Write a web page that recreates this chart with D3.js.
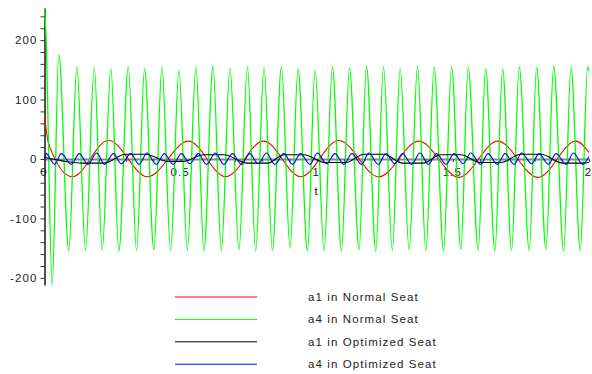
<!DOCTYPE html>
<html>
<head>
<meta charset="utf-8">
<script src="https://cdn.jsdelivr.net/npm/d3@7"></script>
<style>
  body { margin: 0; background: #fff; }
  text { font-family: "Liberation Sans", Arial, sans-serif; font-size: 11.5px; fill: #222; letter-spacing: 1.1px; }
</style>
</head>
<body>
<svg id="chart" width="592" height="374"></svg>
<script>
// [t, value] pairs (extremes of each wave)
const a1Normal = [[0,74],[0.0074,45],[0.018,22],[0.102,-30],[0.235,31],[0.378,-30],[0.529,30],[0.665,-30],
  [0.805,30],[0.941,-30],[1.081,31],[1.228,-30],[1.375,30],[1.522,-31],[1.665,30],[1.813,-31],[1.952,30],[2.0,11]];

const a4Normal = [[0,254],[0.005,214],[0.0283,-212],[0.0526,176],[0.0893,-155],[0.1188,155],[0.1507,-154],
  [0.1827,154],[0.2121,-153],[0.2438,152],[0.2732,-155],[0.3077,155],[0.3382,-154],[0.3676,152],[0.4018,-153],
  [0.4313,155],[0.4632,-155],[0.4938,150],[0.5246,-153],[0.5563,155],[0.5857,-154],[0.6188,156],[0.6496,-155],
  [0.6813,153],[0.7143,-153],[0.7452,155],[0.7757,-155],[0.8063,154],[0.8371,-154],[0.8702,155],[0.9018,-150],
  [0.9313,152],[0.9658,-155],[0.9938,150],[1.0268,-154],[1.0577,155],[1.0908,-155],[1.1202,153],[1.1555,-153],
  [1.1827,156],[1.2169,-155],[1.2452,155],[1.2776,-154],[1.3063,153],[1.3393,-153],[1.3702,156],[1.4007,-154],
  [1.4313,154],[1.4658,-155],[1.4952,155],[1.5294,-152],[1.5563,154],[1.5930,-154],[1.6202,152],[1.6544,-155],
  [1.6827,151],[1.7158,-153],[1.7438,155],[1.7805,-154],[1.8077,154],[1.8419,-152],[1.8702,156],[1.9070,-155],
  [1.9338,155],[1.9680,-154],[1.9952,155],[2.0,148]];

const a1Optimized = [[0,3],[0.143,-7],[0.217,-7],[0.298,8],[0.371,8],[0.452,-4],[0.511,-4],[0.585,7],[0.658,7],
  [0.746,-7],[0.820,-7],[0.879,7],[0.952,7],[1.033,-6],[1.107,-6],[1.173,8],[1.246,8],[1.316,-7],[1.390,-7],
  [1.456,7],[1.529,7],[1.603,-6],[1.676,-6],[1.750,8],[1.824,8],[1.904,-7],[1.978,-7],[2.0,-6]];

const a4Optimized = [[0,4],[0.006,9],[0.037,-9],[0.0616,9],[0.0983,-9],[0.1278,9],[0.1597,-9],[0.1917,10],
  [0.2211,-9],[0.2528,9],[0.2822,-8],[0.3167,9],[0.3472,-9],[0.3766,10],[0.4108,-9],[0.4403,9],[0.4722,-9],
  [0.5028,9],[0.5336,-8],[0.5653,9],[0.5947,-9],[0.6278,10],[0.6586,-9],[0.6903,9],[0.7233,-9],[0.7542,9],
  [0.7847,-8],[0.8153,10],[0.8461,-9],[0.8792,9],[0.9108,-9],[0.9403,9],[0.9748,-9],[1.0028,10],[1.0358,-8],
  [1.0667,9],[1.0998,-9],[1.1292,9],[1.1645,-9],[1.1917,10],[1.2259,-9],[1.2542,9],[1.2866,-8],[1.3153,9],
  [1.3483,-9],[1.3792,10],[1.4097,-9],[1.4403,9],[1.4748,-9],[1.5042,9],[1.5384,-8],[1.5653,10],[1.6020,-9],
  [1.6292,9],[1.6634,-9],[1.6917,9],[1.7248,-9],[1.7528,10],[1.7895,-8],[1.8167,9],[1.8509,-9],[1.8792,9],
  [1.9160,-9],[1.9428,10],[1.9770,-9],[2.0,4]];

const seriesNames = ["a1 in Normal Seat", "a4 in Normal Seat", "a1 in Optimized Seat", "a4 in Optimized Seat"];
const seriesData = [a1Normal, a4Normal, a1Optimized, a4Optimized];
const seriesColors = ["#ff0000", "#00ff00", "#000000", "#0000ff"];

const xTicks = [0, 0.1, 0.2, 0.3, 0.4, 0.5, 0.6, 0.7, 0.8, 0.9, 1, 1.1, 1.2, 1.3, 1.4, 1.5, 1.6, 1.7, 1.8, 1.9, 2];
const xLabels = [0, 0.5, 1, 1.5, 2];
const yTicks = [-200, -180, -160, -140, -120, -100, -80, -60, -40, -20, 0, 20, 40, 60, 80, 100, 120, 140, 160, 180, 200, 220, 240];
const yLabels = [-200, -100, 0, 100, 200];

const svg = d3.select("#chart");

const x = d3.scaleLinear().domain([0, 2]).range([44.5, 589]);
const y = d3.scaleLinear().domain([-212, 254]).range([285, 8]);

// x axis through y = 0
const xAxis = svg.append("g")
  .attr("transform", `translate(0,${y(0)})`)
  .call(d3.axisBottom(x).tickValues(xTicks).tickSize(3).tickSizeOuter(0).tickPadding(6)
    .tickFormat(d => xLabels.some(v => Math.abs(v - d) < 1e-9) ? d3.format("~g")(d) : ""));
xAxis.select(".domain").attr("stroke", "#888").attr("stroke-width", 2);
xAxis.selectAll(".tick line").attr("stroke", "#444");

// y axis through t = 0
const yAxis = svg.append("g")
  .attr("transform", `translate(${x(0)},0)`)
  .call(d3.axisLeft(y).tickValues(yTicks).tickSize(4).tickSizeOuter(0).tickPadding(3)
    .tickFormat(d => yLabels.includes(d) ? d : ""));
yAxis.select(".domain").attr("stroke", "#222").attr("stroke-width", 1.6);
yAxis.selectAll(".tick line").attr("stroke", "#333");

svg.selectAll(".tick text").attr("font-family", null).attr("font-size", null).attr("fill", null);
xAxis.selectAll(".tick text").attr("dx", "-1");

svg.append("text")
  .attr("x", x(1))
  .attr("y", 195)
  .attr("text-anchor", "middle")
  .text("t");

const line = d3.line()
  .x(d => x(d[0]))
  .y(d => y(d[1]))
  .curve(d3.curveMonotoneX);

svg.append("g")
  .selectAll("path")
  .data(seriesData)
  .enter().append("path")
    .attr("fill", "none")
    .attr("stroke", (d, i) => seriesColors[i])
    .attr("stroke-width", (d, i) => i === 1 ? 1.3 : 1.1)
    .attr("d", line);

// legend
const legend = svg.append("g")
  .selectAll("g")
  .data(seriesNames)
  .enter().append("g")
    .attr("transform", (d, i) => `translate(0,${297 + i * 22.4})`);

legend.append("line")
  .attr("x1", 175)
  .attr("x2", 257)
  .attr("stroke", (d, i) => seriesColors[i])
  .attr("stroke-width", 1);

legend.append("text")
  .attr("x", 308)
  .attr("dy", "0.35em")
  .text(d => d);
</script>
</body>
</html>
